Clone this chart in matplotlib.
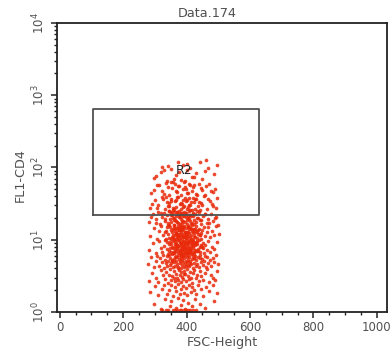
import matplotlib
matplotlib.use("Agg")
import matplotlib.pyplot as plt
from matplotlib.ticker import LogLocator, MultipleLocator, FixedLocator, NullFormatter

plt.rcParams['font.family'] = ['DejaVu Sans']

title = "Data.174"
x_label = "FSC-Height"
y_label = "FL1-CD4"
x_ticks = [0, 200, 400, 600, 800, 1000]
y_ticks = [1, 10, 100, 1000, 10000]
y_tick_labels = [r"$\mathdefault{10^{0}}$", r"$\mathdefault{10^{1}}$", r"$\mathdefault{10^{2}}$",
                 r"$\mathdefault{10^{3}}$", r"$\mathdefault{10^{4}}$"]

# gate R2: FSC range and FL1 range
gate_name = "R2"
gate_fsc = [105, 629]
gate_fl1 = [22, 640]
gate_label_pos = [393, 90]

# events (FSC-Height, FL1-CD4)
fsc = [
    # pile at the bottom
    322, 335, 341, 356, 362, 371, 378, 384, 391, 399, 405, 412, 420, 431,
    # 1.0-1.6
    298, 318, 333, 347, 352, 366, 374, 381, 388, 396, 403, 417, 428, 441, 457, 486,
    # 1.6-2.5
    284, 301, 309, 322, 329, 338, 344, 351, 357, 362,
    368, 373, 379, 383, 388, 392, 397, 402, 407, 413,
    418, 424, 431, 437, 446, 453, 462, 471, 483, 495,
    # 2.5-4.0
    281, 292, 303, 311, 318, 326, 331, 336, 340, 344,
    348, 352, 355, 359, 362, 366, 369, 372, 375, 378,
    381, 384, 386, 389, 392, 395, 398, 401, 404, 407,
    410, 414, 417, 421, 425, 429, 433, 438, 442, 447,
    452, 458, 464, 470, 477, 484, 491, 497, 361, 393,
    # 4.0-6.3
    279, 288, 296, 302, 308, 313, 317, 321, 325, 328,
    331, 334, 337, 339, 342, 344, 347, 349, 351, 353,
    355, 357, 359, 361, 363, 364, 366, 368, 370, 371,
    373, 375, 376, 378, 379, 381, 382, 384, 385, 387,
    388, 390, 391, 393, 394, 396, 397, 399, 400, 402,
    403, 405, 407, 408, 410, 412, 413, 415, 417, 419,
    421, 423, 425, 427, 429, 431, 433, 436, 438, 441,
    443, 446, 449, 452, 455, 458, 461, 465, 469, 473,
    477, 482, 487, 493, 499, 354, 372, 389, 406, 422,
    # 6.3-10
    283, 294, 305, 312, 319, 324, 329, 333, 337, 340,
    343, 346, 349, 351, 353, 356, 358, 360, 362, 364,
    366, 367, 369, 371, 372, 374, 375, 377, 378, 380,
    381, 382, 384, 385, 386, 388, 389, 390, 391, 392,
    393, 395, 396, 397, 398, 399, 401, 402, 403, 404,
    406, 407, 408, 410, 411, 413, 414, 416, 417, 419,
    421, 422, 424, 426, 428, 430, 432, 434, 437, 439,
    442, 445, 448, 451, 455, 459, 463, 468, 474, 481,
    488, 496, 350, 357, 363, 368, 373, 379, 383, 387,
    394, 400, 405, 409, 415, 420, 425, 431, 436, 444,
    338, 347, 359, 370, 376, 386, 392, 398, 403, 412,
    418, 427, 433, 441, 365, 384, 395, 407, 423, 453,
    # 10-16
    286, 297, 306, 314, 320, 326, 331, 335, 339, 342,
    345, 348, 350, 353, 355, 357, 359, 361, 363, 365,
    367, 369, 370, 372, 374, 375, 377, 378, 380, 381,
    383, 384, 386, 387, 389, 390, 392, 393, 395, 396,
    398, 399, 401, 402, 404, 405, 407, 409, 410, 412,
    414, 416, 418, 420, 422, 424, 426, 429, 431, 434,
    437, 440, 443, 447, 450, 454, 458, 463, 468, 474,
    480, 487, 494, 501, 352, 362, 371, 379, 388, 397,
    406, 415, 425, 436, 346, 358, 366, 376, 385, 394,
    403, 411, 419, 428, 441, 336, 368, 382, 400, 417,
    356, 373, 391, 408, 432, 360, 377, 389, 413, 445,
    # 16-25
    282, 293, 302, 310, 317, 323, 328, 333, 337, 341,
    344, 348, 351, 354, 357, 360, 362, 365, 368, 370,
    373, 375, 378, 380, 383, 385, 388, 390, 393, 395,
    398, 400, 403, 405, 408, 411, 414, 417, 420, 423,
    427, 430, 434, 438, 442, 447, 452, 457, 463, 469,
    476, 484, 492, 499, 346, 359, 371, 382, 392, 401,
    412, 424, 436, 355, 366, 377, 387, 397, 409, 419,
    289, 305, 319, 331, 342, 350, 361, 369, 379, 386,
    394, 404, 413, 421, 432, 444, 458, 472, 489, 350,
    # 25-40
    285, 299, 311, 322, 331, 339, 346, 352, 358, 363,
    368, 373, 378, 383, 388, 392, 397, 402, 407, 412,
    418, 424, 430, 437, 445, 454, 463, 473, 484, 496,
    343, 356, 366, 376, 386, 395, 405, 415, 427, 441,
    292, 308, 326, 341, 350, 361, 371, 381, 390, 400,
    409, 419, 428, 439, 450, 467, 480, 493, 335, 411,
    # 40-63
    288, 306, 321, 334, 345, 354, 362, 370, 377, 384,
    391, 398, 405, 412, 420, 429, 439, 450, 462, 476,
    491, 358, 395, 433,
    297, 314, 329, 340, 350, 366, 374, 388, 401, 409,
    417, 425, 446, 458, 470, 484,
    # 63-100
    296, 318, 337, 352, 368, 381, 402, 416, 431, 449, 468, 487,
    305, 329, 360, 375, 394, 410, 425, 459,
    # 100-140
    340, 374, 402, 441, 497, 322, 388, 460,
]

fl1 = [
    1.05, 1.05, 1.05, 1.05, 1.05, 1.05, 1.05, 1.05, 1.05, 1.05, 1.05, 1.05, 1.05, 1.05,
    1.3, 1.1, 1.5, 1.2, 1.4, 1.15, 1.55, 1.25, 1.45, 1.1, 1.35, 1.2, 1.5, 1.3, 1.15, 1.4,
    1.9, 2.3, 1.7, 2.1, 2.4, 1.8, 2.0, 2.35, 1.65, 2.2,
    1.95, 2.45, 1.75, 2.05, 2.3, 1.85, 2.15, 1.7, 2.4, 1.9,
    2.25, 2.0, 1.8, 2.35, 2.1, 1.65, 2.2, 1.95, 2.4, 1.85,
    2.7, 3.5, 3.0, 2.6, 3.8, 3.2, 2.9, 3.6, 2.55, 3.3,
    3.9, 2.8, 3.1, 3.7, 2.65, 3.4, 3.0, 2.75, 3.85, 3.25,
    2.6, 3.55, 3.05, 2.9, 3.75, 3.35, 2.7, 3.95, 3.15, 2.85,
    3.6, 3.0, 2.55, 3.45, 3.8, 2.95, 3.2, 2.65, 3.7, 3.1,
    2.8, 3.5, 3.9, 2.6, 3.3, 3.0, 2.75, 3.65, 2.95, 3.4,
    4.6, 5.8, 4.2, 5.1, 6.0, 4.4, 5.5, 4.9, 6.2, 4.1,
    5.3, 4.7, 5.9, 4.3, 5.0, 6.1, 4.5, 5.6, 4.8, 5.2,
    6.25, 4.15, 5.4, 4.95, 5.75, 4.35, 6.05, 5.15, 4.65, 5.85,
    4.25, 5.45, 6.15, 4.75, 5.05, 4.05, 5.65, 6.0, 4.45, 5.3,
    4.85, 5.95, 4.2, 5.55, 6.2, 4.6, 5.1, 4.4, 5.7, 4.9,
    6.1, 5.25, 4.3, 5.8, 4.7, 5.0, 6.25, 4.55, 5.35, 4.1,
    5.9, 4.8, 5.5, 6.05, 4.35, 5.2, 4.65, 5.75, 4.25, 5.6,
    6.15, 4.95, 5.4, 4.5, 5.05, 6.0, 4.15, 5.85, 4.75, 5.3,
    4.4, 5.65, 4.9, 6.2, 4.6, 5.15, 4.05, 5.95, 4.45, 5.55,
    7.1, 8.9, 6.5, 9.6, 7.8, 6.8, 8.3, 9.9, 7.4, 6.4,
    8.6, 7.0, 9.3, 6.7, 8.0, 9.7, 7.6, 6.6, 8.8, 7.3,
    9.1, 6.9, 8.4, 7.7, 9.8, 6.5, 8.1, 7.2, 9.4, 6.8,
    8.7, 7.5, 9.0, 6.4, 8.2, 9.6, 7.9, 6.7, 8.5, 7.1,
    9.2, 6.6, 8.0, 7.4, 9.9, 6.9, 8.6, 7.8, 9.3, 6.5,
    8.3, 7.0, 9.5, 7.6, 6.8, 8.9, 7.3, 9.7, 6.6, 8.1,
    7.7, 9.0, 6.4, 8.5, 7.2, 9.4, 6.9, 8.8, 7.5, 9.8,
    6.7, 8.2, 7.9, 9.1, 6.5, 8.4, 7.1, 9.6, 6.8, 8.0,
    7.4, 9.3, 8.7, 6.6, 9.5, 7.8, 8.3, 6.9, 9.0, 7.6,
    8.6, 6.5, 9.2, 7.3, 8.1, 9.7, 6.7, 8.9, 7.0, 8.4,
    9.4, 7.7, 6.8, 8.5, 9.9, 7.2, 8.0, 6.6, 9.1, 7.5,
    8.8, 6.9, 9.5, 7.9, 8.2, 6.4, 9.3, 7.1, 8.7, 7.6,
    11.2, 14.5, 10.4, 13.1, 15.6, 11.8, 12.7, 10.1, 14.9, 12.2,
    10.7, 15.2, 13.5, 11.0, 12.9, 14.1, 10.3, 15.8, 11.6, 13.3,
    12.4, 10.9, 14.7, 11.4, 15.4, 12.0, 13.8, 10.6, 14.3, 11.9,
    15.0, 12.6, 10.2, 13.6, 11.3, 14.8, 12.1, 15.7, 10.8, 13.0,
    11.7, 14.4, 10.5, 12.8, 15.3, 11.1, 13.9, 12.3, 10.0, 14.6,
    11.5, 13.2, 15.9, 10.4, 12.5, 14.0, 11.0, 15.5, 13.4, 10.7,
    12.0, 14.2, 11.8, 10.3, 13.7, 15.1, 11.3, 12.9, 14.9, 10.9,
    13.1, 11.6, 15.6, 12.2, 10.1, 14.4, 11.9, 13.5, 15.2, 10.6,
    12.7, 14.0, 11.1, 13.8, 15.8, 10.5, 12.3, 14.7, 11.4, 13.0,
    15.0, 10.8, 12.6, 14.3, 11.7, 13.3, 10.2, 15.4, 12.1, 14.1,
    11.5, 13.6, 10.9, 15.1, 12.8, 14.6, 11.2, 13.9, 10.4, 12.4,
    17.5, 22.8, 19.1, 24.3, 16.4, 20.7, 23.5, 18.2, 21.9, 16.9,
    24.8, 19.6, 17.8, 22.3, 20.1, 16.2, 23.9, 18.7, 21.4, 24.5,
    17.1, 20.4, 22.6, 16.6, 19.3, 23.2, 18.0, 21.1, 24.0, 17.4,
    20.9, 16.3, 22.0, 19.8, 24.7, 18.4, 21.6, 16.8, 23.6, 19.0,
    22.4, 17.7, 20.2, 24.2, 18.9, 16.5, 21.3, 23.0, 17.2, 19.5,
    22.9, 18.3, 20.6, 16.1, 24.6, 19.9, 17.6, 23.3, 21.0, 18.6,
    22.1, 16.7, 20.0, 24.1, 18.1, 21.8, 17.0, 23.7, 19.4, 22.5,
    20.5, 17.3, 23.8, 19.2, 16.0, 22.2, 18.5, 24.4, 20.8, 17.9,
    23.1, 19.7, 16.6, 21.5, 24.9, 18.8, 22.7, 17.0, 20.3, 23.4,
    27.5, 35.2, 30.1, 38.6, 26.3, 32.8, 29.0, 37.1, 25.8, 33.9,
    28.4, 39.2, 31.5, 26.9, 36.0, 29.7, 34.4, 27.0, 38.0, 30.6,
    25.5, 33.1, 36.8, 28.9, 31.9, 39.7, 26.6, 34.9, 29.3, 37.5,
    32.2, 27.8, 35.7, 25.2, 30.9, 38.3, 28.1, 33.5, 36.4, 26.0,
    31.2, 27.3, 36.6, 29.5, 34.0, 26.4, 38.9, 32.5, 28.6, 35.4,
    30.3, 37.8, 26.8, 33.3, 29.8, 36.2, 31.7, 27.6, 39.5, 25.9,
    44, 57, 48, 61, 41, 52, 59, 46, 55, 42,
    62, 50, 45, 58, 53, 43, 60, 49, 56, 47,
    51, 63, 54, 41.5,
    49, 58, 43, 54, 62, 47, 56, 51, 44, 60,
    48, 57, 52, 41, 59, 46,
    72, 88, 66, 95, 79, 68, 92, 75, 84, 70, 98, 81,
    77, 93, 70, 86, 65, 97, 74, 89,
    105, 120, 112, 118, 108, 102, 110, 125,
]

text_color = '#505050'
fig = plt.figure(figsize=(3.9, 3.5), dpi=100)
ax = fig.add_axes([0.146, 0.1086, 0.846, 0.8257])

ax.scatter(fsc, fl1, s=7, marker='o', color='#e82a0a', linewidths=0, alpha=0.85, zorder=2)

ax.set_yscale('log')
ax.set_xlim(-9, 1032)
ax.set_ylim(1, 10000)

# gate rectangle
gx = [gate_fsc[0], gate_fsc[1], gate_fsc[1], gate_fsc[0], gate_fsc[0]]
gy = [gate_fl1[0], gate_fl1[0], gate_fl1[1], gate_fl1[1], gate_fl1[0]]
ax.plot(gx, gy, color='#505050', lw=1.3, zorder=3)
ax.text(gate_label_pos[0], gate_label_pos[1], gate_name, ha='center', va='center',
        fontsize=9, color='#222222', zorder=4)

ax.xaxis.set_major_locator(FixedLocator(x_ticks))
ax.xaxis.set_minor_locator(MultipleLocator(50))
ax.set_xticklabels([str(t) for t in x_ticks], fontsize=8.5, color=text_color)
ax.yaxis.set_major_locator(FixedLocator(y_ticks))
ax.yaxis.set_minor_locator(LogLocator(base=10, subs=range(2, 10)))
ax.yaxis.set_minor_formatter(NullFormatter())
ax.set_yticklabels(y_tick_labels, fontsize=8.5, color=text_color, rotation=90, va='center')

ax.tick_params(axis='x', which='major', direction='out', length=4, width=1.1, color='#222222', pad=2.5)
ax.tick_params(axis='y', which='major', direction='out', length=4, width=1.1, color='#222222', pad=3)
ax.tick_params(axis='both', which='minor', direction='out', length=2.5, width=1.0, color='#222222')
for sp in ax.spines.values():
    sp.set_linewidth(1.3)
    sp.set_color('#222222')

fig.text(0.146 + 0.846 * 0.455, 1 - 13.5 / 350, title, ha='center', va='center',
         fontsize=9.2, color=text_color)
ax.set_xlabel(x_label, fontsize=9.2, color=text_color)
ax.xaxis.set_label_coords(0.5, -0.082)
ax.set_ylabel(y_label, fontsize=9.2, color=text_color)
ax.yaxis.set_label_coords(-0.112, 0.475)
ax.yaxis.label.set_va('center')

fig.savefig("out.png", dpi=100)
